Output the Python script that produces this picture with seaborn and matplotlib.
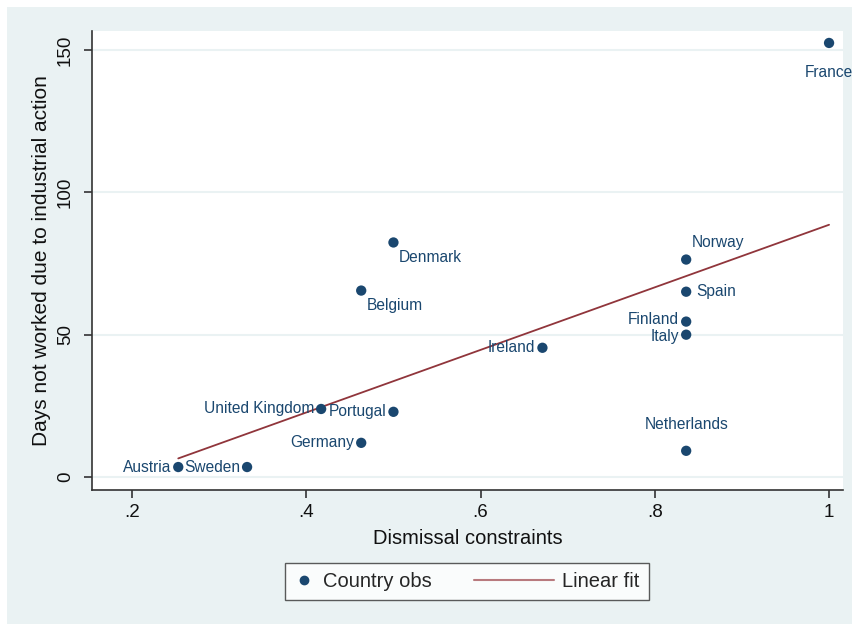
import numpy as np
import pandas as pd
import matplotlib
matplotlib.use("Agg")
import matplotlib.pyplot as plt
import seaborn as sns
from matplotlib.lines import Line2D
from matplotlib.patches import Rectangle
from matplotlib.legend_handler import HandlerLine2D

countries = ["France", "Denmark", "Belgium", "Norway", "Spain", "Finland", "Italy",
             "Ireland", "United Kingdom", "Portugal", "Germany", "Austria", "Sweden",
             "Netherlands"]
dismissal = [1.0, 0.5, 0.463, 0.836, 0.836, 0.836, 0.836,
             0.671, 0.417, 0.5, 0.463, 0.253, 0.332, 0.836]
days_lost = [152.5, 82.4, 65.5, 76.4, 65.1, 54.6, 50.0,
             45.4, 23.9, 22.9, 12.0, 3.5, 3.5, 9.2]
# label placement (Stata clock positions)
label_pos = ["S", "SE", "SE", "NE", "E", "WU", "WD",
             "W", "W", "W", "W", "W", "W", "N"]
x_ticks = [0.2, 0.4, 0.6, 0.8, 1.0]
x_ticklabels = [".2", ".4", ".6", ".8", "1"]
y_ticks = [0, 50, 100, 150]

df = pd.DataFrame({"country": countries, "x": dismissal, "y": days_lost, "pos": label_pos})

sns.set_theme(style="white")
plt.rcParams["font.family"] = ["Liberation Sans", "DejaVu Sans"]

navy = "#1a476f"
maroon = "#90353b"
bg = "#eaf2f3"


class HandlerLongLine(HandlerLine2D):
    def __init__(self, extra, **kw):
        super().__init__(**kw)
        self.extra = extra

    def create_artists(self, legend, orig_handle, xdescent, ydescent, width, height,
                       fontsize, trans):
        y = (height - ydescent) / 2
        line = Line2D([-xdescent - self.extra * fontsize, -xdescent + width], [y, y])
        self.update_prop(line, orig_handle, legend)
        line.set_transform(trans)
        return [line]


fig = plt.figure(figsize=(8.53, 6.24), dpi=100)
fig.patch.set_facecolor("white")
fig.patches.append(Rectangle((7 / 853, 0), 1, 1 - 7 / 624, transform=fig.transFigure,
                             facecolor=bg, edgecolor="none", zorder=-10))
ax = fig.add_axes([92 / 853, (624 - 490) / 624, (843 - 92) / 853, (490 - 31) / 624])
ax.set_facecolor("white")

sns.regplot(data=df, x="x", y="y", ax=ax, ci=None, scatter=False,
            line_kws=dict(color=maroon, lw=1.3), truncate=True)
sns.scatterplot(data=df, x="x", y="y", ax=ax, color=navy, s=55, edgecolor="none",
                zorder=3, clip_on=False)

offsets = {"S": (0, -21, "center", "center"),
           "SE": (4, -11, "left", "center"),
           "NE": (4, 12, "left", "center"),
           "E": (7, 0, "left", "center"),
           "W": (-5, 0, "right", "center"),
           "WU": (-5, 1.5, "right", "center"),
           "WD": (-5, -1.5, "right", "center"),
           "N": (0, 19, "center", "center")}
for _, r in df.iterrows():
    dx, dy, ha, va = offsets[r["pos"]]
    ax.annotate(r["country"], (r["x"], r["y"]), xytext=(dx, dy), textcoords="offset points",
                ha=ha, va=va, fontsize=11.2, color=navy, zorder=4, annotation_clip=False)

ax.set_xlim(0.154, 1.016)
ax.set_ylim(-4.57, 156.7)
ax.set_xticks(x_ticks)
ax.set_xticklabels(x_ticklabels)
ax.set_yticks(y_ticks)
ax.set_yticklabels([str(v) for v in y_ticks], rotation=90, va="center")
ax.tick_params(axis="both", which="major", direction="out", length=6, width=1.2,
               color="#333333", labelsize=13.5, labelcolor="#111111", pad=4, left=True, bottom=True)
ax.tick_params(axis="y", pad=7)
ax.grid(axis="y", color=bg, lw=1.5)
ax.set_axisbelow(True)
for s in ["top", "right"]:
    ax.spines[s].set_visible(False)
for s in ["left", "bottom"]:
    ax.spines[s].set_color("#333333")
    ax.spines[s].set_linewidth(1.2)
ax.set_xlabel("Dismissal constraints", fontsize=14.5, color="#111111", labelpad=6)
ax.set_ylabel("Days not worked due to industrial action", fontsize=15, color="#111111", labelpad=4)

h_obs = Line2D([], [], marker="o", color=navy, linestyle="none", markersize=6)
h_fit = Line2D([], [], color="#b87a7e", lw=1.5)
leg = fig.legend([h_obs, h_fit], ["Country obs", "Linear fit"], loc="center",
                 bbox_to_anchor=(467 / 853, 1 - 581.5 / 624), ncol=2, frameon=True,
                 fancybox=False, fontsize=14.5, handlelength=1.0, columnspacing=5.1,
                 handletextpad=0.4, borderpad=0.45,
                 handler_map={h_fit: HandlerLongLine(3.0)})
leg.get_frame().set_edgecolor("#333333")
leg.get_frame().set_linewidth(1.0)

fig.savefig("out.png", dpi=100, facecolor=fig.get_facecolor())
